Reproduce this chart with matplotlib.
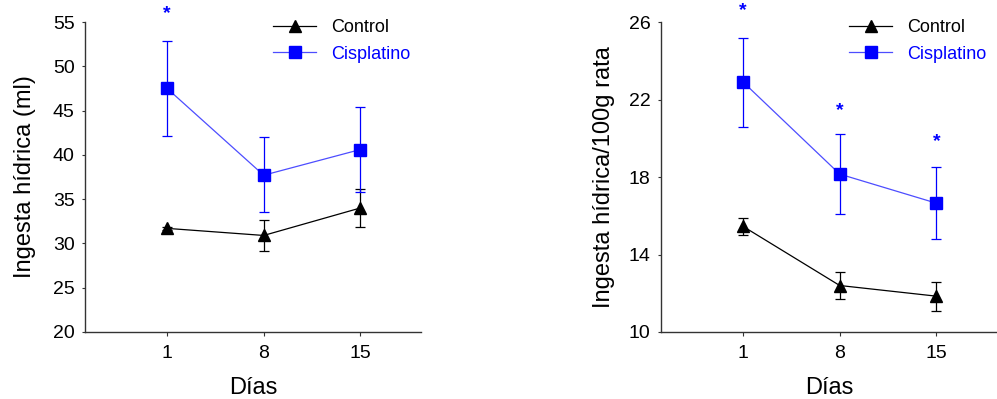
import matplotlib
matplotlib.use("Agg")
import matplotlib.pyplot as plt
from matplotlib.lines import Line2D

plt.rcParams.update({
    "font.family": ["Liberation Sans", "DejaVu Sans"],
    "axes.linewidth": 1.0,
})

# ---- data ----
dias = [1, 8, 15]
dia_labels = ["1", "8", "15"]

# left panel: ml
ml_control = [31.7, 30.9, 34.0]
ml_control_err = [0.15, 1.7, 2.2]
ml_cis = [47.5, 37.7, 40.6]
ml_cis_err_lo = [5.4, 4.2, 4.8]
ml_cis_err_hi = [5.4, 4.3, 4.8]
ml_stars = [(1, 55.9)]

# right panel: per 100 g rat
g_control = [15.45, 12.4, 11.85]
g_control_err = [0.45, 0.7, 0.75]
g_cis = [22.9, 18.15, 16.65]
g_cis_err = [2.3, 2.05, 1.85]
g_stars = [(1, 26.6), (8, 21.45), (15, 19.85)]

BLUE = "#0000FF"
LINE_BLUE = "#4d4dff"
SPINE = "#333333"

fig = plt.figure(figsize=(9.97, 3.99), dpi=100)
ax1 = fig.add_axes([85 / 997, 67 / 399, 336 / 997, 310 / 399])
ax2 = fig.add_axes([661 / 997, 67 / 399, 336 / 997, 310 / 399])


def draw_panel(ax, ctrl, ctrl_err, cis, cis_err, stars, ylim, yticks, ylabel, ypad):
    ax.errorbar(dias, ctrl, yerr=ctrl_err, color="black", lw=0.9,
                marker="^", ms=8.5, mfc="black", mec="black",
                ecolor="black", elinewidth=0.9, capsize=3.5, capthick=0.9,
                zorder=3)
    ax.errorbar(dias, cis, yerr=cis_err, color=LINE_BLUE, lw=0.9,
                marker="s", ms=8.5, mfc=BLUE, mec=BLUE,
                ecolor=BLUE, elinewidth=0.9, capsize=3.5, capthick=0.9,
                zorder=3)
    for x, y in stars:
        ax.text(x, y, "*", color=BLUE, fontsize=14, fontweight="bold",
                ha="center", va="center", clip_on=False)

    ax.set_xlim(-4.95, 19.4)
    ax.set_ylim(*ylim)
    ax.set_xticks(dias)
    ax.set_xticklabels(dia_labels)
    ax.set_yticks(yticks)
    ax.tick_params(axis="both", direction="out", labelsize=14, colors=SPINE,
                   labelcolor="black")
    ax.tick_params(axis="y", length=2.5, pad=5)
    ax.tick_params(axis="x", length=3, pad=6)
    for s in ["top", "right"]:
        ax.spines[s].set_visible(False)
    for s in ["left", "bottom"]:
        ax.spines[s].set_color(SPINE)

    ax.set_xlabel("Días", fontsize=17, labelpad=11)
    ax.set_ylabel(ylabel, fontsize=17, labelpad=ypad)

    handles = [
        Line2D([], [], color="black", lw=0.9, marker="^", ms=8.5,
               mfc="black", mec="black"),
        Line2D([], [], color=LINE_BLUE, lw=0.9, marker="s", ms=8.5,
               mfc=BLUE, mec=BLUE),
    ]
    leg = ax.legend(handles, ["Control", "Cisplatino"], loc="upper right",
                    bbox_to_anchor=(1.0, 1.045), frameon=False, fontsize=13,
                    handlelength=2.4, handletextpad=0.8, labelspacing=0.55,
                    borderaxespad=0.2)
    for txt, col in zip(leg.get_texts(), ["black", BLUE]):
        txt.set_color(col)


draw_panel(ax1, ml_control, ml_control_err, ml_cis,
           [ml_cis_err_lo, ml_cis_err_hi], ml_stars,
           (20, 55), [20, 25, 30, 35, 40, 45, 50, 55], "Ingesta hídrica (ml)", 12)
draw_panel(ax2, g_control, g_control_err, g_cis, g_cis_err, g_stars,
           (10, 26), [10, 14, 18, 22, 26], "Ingesta hídrica/100g rata", 10)

fig.savefig("out.png", dpi=100)
